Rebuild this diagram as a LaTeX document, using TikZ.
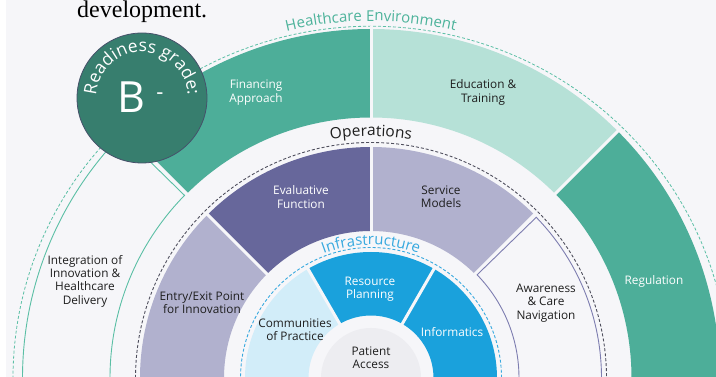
\documentclass[tikz,border=0pt]{standalone}
\usepackage{fontspec}
\setmainfont{Open Sans}
\newfontfamily\serifdev{Liberation Serif}
\usetikzlibrary{decorations.text}
\definecolor{bg}{HTML}{F6F6F9}
\definecolor{grn}{HTML}{4DAE99}
\definecolor{mint}{HTML}{B6E1D7}
\definecolor{badge}{HTML}{377E6E}
\definecolor{badgeline}{HTML}{46506A}
\definecolor{evalp}{HTML}{67679B}
\definecolor{lightp}{HTML}{B1B1CE}
\definecolor{outp}{HTML}{7D7DB0}
\definecolor{blu}{HTML}{1AA1DC}
\definecolor{lblu}{HTML}{D2EDF9}
\definecolor{pa}{HTML}{EDEDF1}
\definecolor{bluedash}{HTML}{37A9DF}
\definecolor{tealline}{HTML}{5BBFA5}
\definecolor{tealtext}{HTML}{4DB39B}
\definecolor{darkdash}{HTML}{50505E}
\definecolor{ink}{HTML}{1E1E1E}
\newcommand\annsec[5]{\path[#1] ([shift={(#2:#4)}]C) arc[start angle=#2,end angle=#3,radius=#4] -- ([shift={(#3:#5)}]C) arc[start angle=#3,end angle=#2,radius=#5] -- cycle;}
\newcommand\gapline[3]{\draw[gap] ([shift={(#1:#2)}]C) -- ([shift={(#1:#3)}]C);}
\begin{document}
\begin{tikzpicture}[x=1pt,y=1pt,
  lbl/.style={font=\fontsize{11.8}{13.3}\selectfont, align=center, text=ink, inner sep=0},
  wlbl/.style={lbl, text=white},
  gap/.style={draw=bg, line width=3pt},
  tdash/.style={draw=tealline, line width=0.8pt, dash pattern=on 3pt off 2pt},
  ddash/.style={draw=darkdash, line width=0.9pt, dash pattern=on 3pt off 2pt},
  bdash/.style={draw=bluedash, line width=0.9pt, dash pattern=on 3pt off 2pt},
]
\useasboundingbox (0,0) rectangle (716,377);
\clip (0,0) rectangle (716,377);
\fill[bg] (0,0) rectangle (716,377);
\fill[white] (0,0) rectangle (6,377);
\coordinate (C) at (371,-1);
\coordinate (B) at (142,279);

% Healthcare environment ring
\draw[tdash] ([shift={(-2:358)}]C) arc[start angle=-2,end angle=182,x radius=358,y radius=352];
\annsec{fill=grn}{-3}{45}{260.5}{349}
\annsec{fill=mint}{45}{90}{260.5}{349}
\annsec{fill=grn}{90}{135}{260.5}{349}
\gapline{45}{257}{352}
\gapline{90}{257}{352}
\gapline{135}{257}{352}
\annsec{draw=tealline, line width=0.9pt}{135.6}{184}{261}{348.5}

% Operations ring
\draw[ddash] ([shift={(-2:235.5)}]C) arc[start angle=-2,end angle=182,radius=235.5];
\annsec{fill=lightp}{135}{184}{147}{231}
\annsec{fill=evalp}{90}{135}{147}{231}
\annsec{fill=lightp}{45}{90}{147}{231}
\gapline{45}{144}{234}
\gapline{90}{144}{234}
\gapline{135}{144}{234}
\annsec{draw=outp, line width=0.9pt}{-4}{44.2}{148}{230.5}

% Infrastructure ring
\draw[bdash] ([shift={(-2:130.5)}]C) arc[start angle=-2,end angle=182,radius=130.5];
\annsec{fill=lblu}{120}{184}{62.5}{126}
\annsec{fill=blu}{60}{120}{62.5}{126}
\annsec{fill=blu}{-4}{60}{62.5}{126}
\gapline{60}{60}{128}
\gapline{120}{60}{128}
\fill[pa] (C) circle (50);

% curved titles
\path[decorate, decoration={text along path, text={|\fontsize{15}{15}\selectfont|Healthcare Environment}, text color=tealtext, text align=center}] ([shift={(112:357)}]C) arc[start angle=112,end angle=68,radius=357];
\path[decorate, decoration={text along path, text={|\fontsize{15.5}{15.5}\selectfont|Operations}, text color=ink, text align=center}] ([shift={(110:242)}]C) arc[start angle=110,end angle=70,radius=242];
\path[decorate, decoration={text along path, text={|\fontsize{15}{15}\selectfont|Infrastructure}, text color=bluedash, text align=center}] ([shift={(130:133)}]C) arc[start angle=130,end angle=50,radius=133];

% labels
\node[wlbl] (fin) at (256,284.5) {Financing\\Approach};
\node[lbl] (edu) at (483,284.5) {Education \&\\Training};
\node[wlbl] (reg) at (654,96) {Regulation};
\node[lbl] (int) at (85,96) {Integration of\\Innovation \&\\Healthcare\\Delivery};
\node[wlbl] (eva) at (301,180) {Evaluative\\Function};
\node[lbl] (ser) at (441,180) {Service\\Models};
\node[lbl] (ent) at (202,74) {Entry/Exit Point\\for Innovation};
\node[lbl] (awa) at (546,74) {Awareness\\\& Care\\Navigation};
\node[wlbl] (res) at (370,88) {Resource\\Planning};
\node[lbl] (com) at (295,47.5) {Communities\\of Practice};
\node[wlbl] (inf) at (452,45) {Informatics};
\node[lbl] (pat) at (371,19) {Patient\\Access};

% badge
\fill[badge] (B) circle (65);
\draw[badgeline, line width=0.8pt] (B) circle (65);
\path[decorate, decoration={text along path, text={|\fontsize{17.5}{17.5}\selectfont|Readiness grade:}, text color=white, text align=center}] ([shift={(205:46)}]B) arc[start angle=205,end angle=-25,radius=46];
\node[text=white, font=\fontsize{43}{43}\selectfont, inner sep=0] (grade) at (131,280) {B};
\node[text=white, font=\fontsize{22}{22}\selectfont, inner sep=0] (minus) at (160,281) {-};

\node[anchor=base west, font=\serifdev\fontsize{24}{24}\selectfont, inner sep=0, text=black] (dev) at (77,359) {development.};
\end{tikzpicture}
\end{document}
